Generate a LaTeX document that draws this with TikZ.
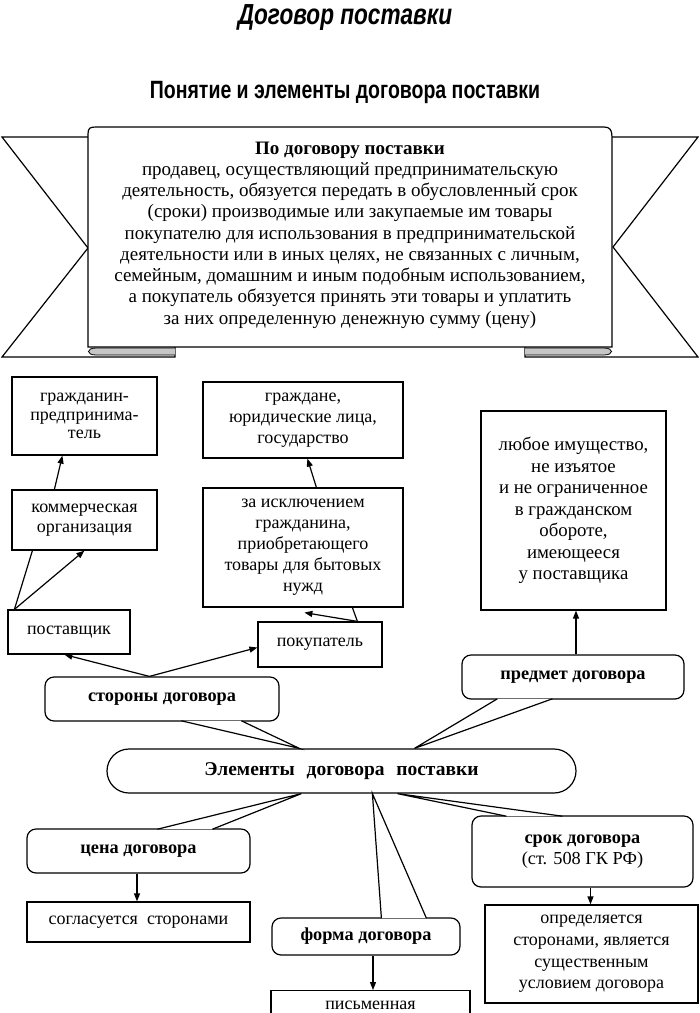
\documentclass[tikz,border=0pt]{standalone}
\usepackage{fontspec}
\setmainfont{Liberation Serif}
\newfontfamily\headfont[FakeStretch=0.78]{Liberation Sans}
\usetikzlibrary{arrows.meta,calc}
\begin{document}
\begin{tikzpicture}[x=1pt,y=-1pt,
  every node/.style={inner sep=0pt},
  box/.style={draw, line width=1.2pt, fill=white, align=center, font=\fontsize{18}{21}\selectfont},
  call/.style={draw, line width=1.2pt, fill=white, rounded corners=9pt, align=center, font=\bfseries\fontsize{18.3}{21}\selectfont},
  ln/.style={line width=1.2pt},
  arr/.style={line width=1.2pt, -{Triangle[length=8pt,width=6pt]}},
  fold/.style={line width=0.8pt, fill=gray!45},
]
\useasboundingbox (0,0) rectangle (700,1013);
% titles
\node[anchor=base, font=\headfont\bfseries\itshape\fontsize{29}{29}\selectfont] (t1) at (345,24) {Договор поставки};
\node[anchor=base, font=\headfont\bfseries\fontsize{25}{25}\selectfont] (t2) at (345,98) {Понятие и элементы договора поставки};
% banner
\draw[ln, fill=white, line join=miter] (88,137) -- (2,137) -- (88,248) -- (2,357) -- (175,357) -- (175,347);
\draw[ln, fill=white, line join=miter] (612,137) -- (698,137) -- (613,247) -- (698,357) -- (525,357) -- (525,347);
\draw[ln, fill=white] (88,347) -- (88,134) .. controls (88,128) and (90,127) .. (96,127) -- (604,127) .. controls (610,127) and (612,130) .. (612,137) -- (612,347) -- cycle;
\draw[fold] (175,348) -- (96,348) .. controls (86,348) and (86,355) .. (96,355) -- (175,355);
\draw[fold] (525,348) -- (604,348) .. controls (614,348) and (614,355) .. (604,355) -- (525,355);
\node[align=center, font=\fontsize{19}{21.25}\selectfont] (bt) at (350,235) {\textbf{По договору поставки}\\
продавец, осуществляющий предпринимательскую\\
деятельность, обязуется передать в обусловленный срок\\
(сроки) производимые или закупаемые им товары\\
покупателю для использования в предпринимательской\\
деятельности или в иных целях, не связанных с личным,\\
семейным, домашним и иным подобным использованием,\\
а покупатель обязуется принять эти товары и уплатить\\
за них определенную денежную сумму (цену)};
% boxes
\node[box, minimum width=145pt, minimum height=78pt, font=\fontsize{18}{18.5}\selectfont] (gr) at (84.5,416) {гражданин-\\предпринима-\\тель};
\node[box, minimum width=145pt, minimum height=60pt, font=\fontsize{18}{20}\selectfont] (ko) at (84.5,520) {коммерческая\\организация};
\node[box, minimum width=122pt, minimum height=44pt] (post) at (69,632) {поставщик};
\node[box, minimum width=200pt, minimum height=76pt] (gz) at (303,420) {граждане,\\юридические лица,\\государство};
\node[box, minimum width=200pt, minimum height=119pt] (zi) at (303,547.5) {за исключением\\гражданина,\\приобретающего\\товары для бытовых\\нужд};
\node[box, minimum width=124pt, minimum height=45pt] (pok) at (320,644.5) {покупатель};
\node[box, minimum width=185pt, minimum height=199pt, font=\fontsize{18.8}{21.5}\selectfont] (lyu) at (573.5,510.5) {любое имущество,\\не изъятое\\и не ограниченное\\в гражданском\\обороте,\\имеющееся\\у поставщика};
\node[box, minimum width=223pt, minimum height=40pt] (so) at (138.5,922) {согласуется\ \ сторонами};
\node[box, minimum width=199pt, minimum height=40pt, anchor=north] (pi) at (370.5,990) {\raisebox{10pt}{письменная}};
\node[box, minimum width=213pt, minimum height=98pt, font=\fontsize{18}{21.7}\selectfont] (op) at (591.5,954) {определяется\\сторонами, является\\существенным\\условием договора};
% central node
\node[draw, ln, fill=white, rounded corners=22pt, minimum width=469pt, minimum height=44pt, font=\bfseries\fontsize{19.5}{21}\selectfont] (el) at (341.5,771) {Элементы\hspace{0.6em}договора\hspace{0.6em}поставки};
% callouts
\node[call, minimum width=234pt, minimum height=44pt] (st) at (162,699) {стороны договора};
\node[call, minimum width=222pt, minimum height=44pt] (pr) at (573,677) {предмет договора};
\node[call, minimum width=223pt, minimum height=44pt] (ce) at (138.5,851) {цена договора};
\node[call, minimum width=188pt, minimum height=37pt] (fo) at (366,936.5) {форма договора};
\node[call, minimum width=221pt, minimum height=71pt] (sr) at (582.5,851.5) {срок договора\\\mdseries (ст. 508 ГК РФ)};
% callout pointers
\coordinate (stA) at ([xshift=137pt,yshift=0.8pt]st.south west);
\coordinate (stB) at ([xshift=197pt,yshift=0.8pt]st.south west);
\coordinate (stT) at ([xshift=193pt]el.north west);
\coordinate (prA) at ([xshift=36pt,yshift=0.8pt]pr.south west);
\coordinate (prB) at ([xshift=91pt,yshift=0.8pt]pr.south west);
\coordinate (prT) at ([xshift=308pt]el.north west);
\coordinate (ceA) at ([xshift=131pt,yshift=-0.8pt]ce.north west);
\coordinate (ceB) at ([xshift=186pt,yshift=-0.8pt]ce.north west);
\coordinate (ceT) at ([xshift=195pt]el.south west);
\coordinate (foA) at ([xshift=110pt,yshift=-0.8pt]fo.north west);
\coordinate (foB) at ([xshift=155pt,yshift=-0.8pt]fo.north west);
\coordinate (foT) at ([xshift=266pt]el.south west);
\coordinate (srA) at ([xshift=35pt,yshift=-0.8pt]sr.north west);
\coordinate (srB) at ([xshift=91pt,yshift=-0.8pt]sr.north west);
\coordinate (srT) at ([xshift=291pt]el.south west);
\foreach \p in {st,pr,ce,fo,sr}{
  \fill[white] (\p A) -- (\p T) -- (\p B) -- cycle;
  \draw[ln, line join=miter] (\p A) -- (\p T) -- (\p B);
}
% connectors
\draw[arr] ([xshift=43pt]ko.north west) -- ([xshift=51pt]gr.south west);
\coordinate (postTop) at ([xshift=7pt]post.north west);
\draw[ln] (postTop) -- ([xshift=21pt]ko.south west);
\draw[arr] (postTop) -- ([xshift=73pt]ko.south west);
\draw[arr] ([xshift=114pt]zi.north west) -- ([xshift=105pt]gz.south west);
\coordinate (pokTop) at ([xshift=100pt]pok.north west);
\draw[ln] (pokTop) -- ([xshift=150pt]zi.south west);
\draw[arr] (pokTop) -- ([xshift=102pt,yshift=-5pt]zi.south west);
\coordinate (stTop) at ([xshift=105pt]st.north west);
\draw[arr] (stTop) -- ([xshift=57pt]post.south west);
\draw[arr] (stTop) -- ([yshift=-3pt]pok.west);
\draw[arr] ([xshift=3pt]pr.north) -- ([xshift=3pt]pr.north |- lyu.south);
\draw[arr] ([xshift=-1.5pt]ce.south) -- ([xshift=-1.5pt]ce.south |- so.north);
\draw[arr] ([xshift=7pt]fo.south) -- ([xshift=7pt]fo.south |- pi.north);
\draw[arr] ([xshift=8pt]sr.south) -- ([xshift=8pt]sr.south |- op.north);
\end{tikzpicture}
\end{document}
